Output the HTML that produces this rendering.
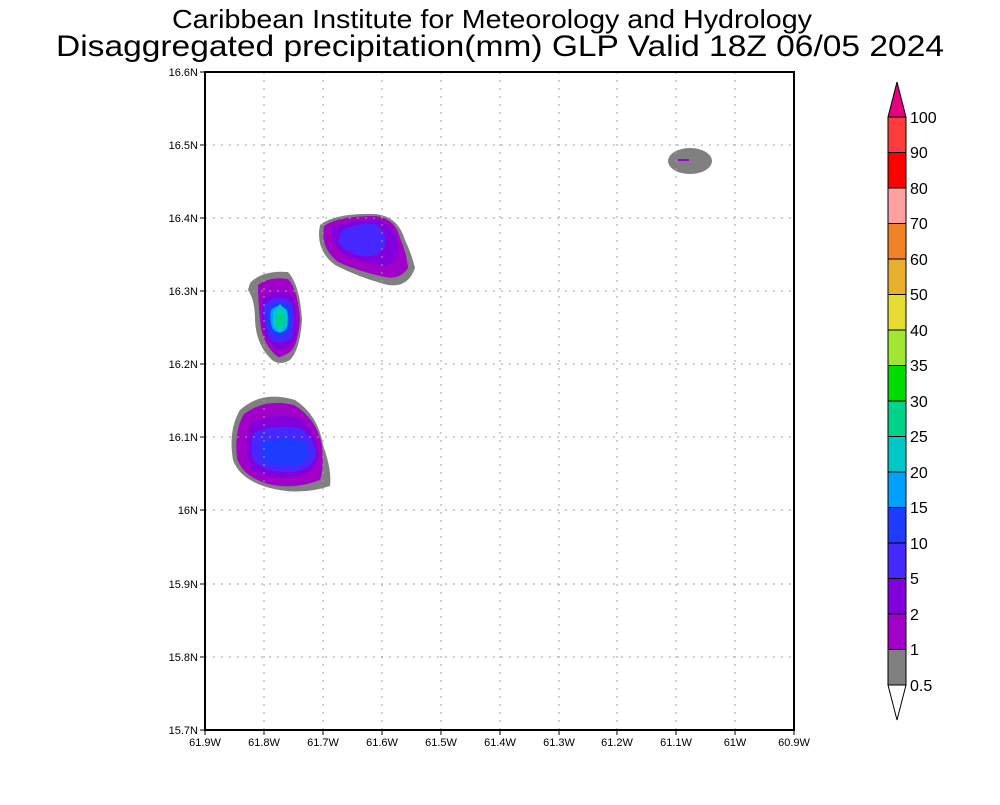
<!DOCTYPE html>
<html><head><meta charset="utf-8"><style>
body{margin:0;background:#fff;}
svg text{font-family:"Liberation Sans",sans-serif;fill:#000;}
</style></head><body>
<svg width="1000" height="800" xmlns="http://www.w3.org/2000/svg">
<rect width="1000" height="800" fill="#fff"/>
<text x="492" y="28" font-size="26" text-anchor="middle" textLength="640" lengthAdjust="spacingAndGlyphs">Caribbean Institute for Meteorology and Hydrology</text>
<text x="500" y="56" font-size="30" text-anchor="middle" textLength="888" lengthAdjust="spacingAndGlyphs">Disaggregated precipitation(mm) GLP Valid 18Z 06/05 2024</text>

<!-- blobs -->
<g>
<!-- bottom-left -->
<path d="M240,410 Q262,390 295,400 Q318,415 323,445 Q332,470 330,486 Q300,496 270,488 Q240,480 233,460 Q228,430 240,410Z" fill="#808080"/>
<path d="M244,414 Q265,398 294,405 Q316,418 322,445 Q324,470 320,480 Q295,490 268,484 Q242,476 237,458 Q234,430 244,414Z" fill="#a000c8"/>
<path d="M250,425 Q270,412 298,418 Q316,430 318,452 Q318,470 300,476 Q270,480 252,470 Q242,450 250,425Z" fill="#8200dc"/>
<path d="M255,432 Q275,424 300,428 Q316,440 316,456 Q312,470 290,472 Q262,472 253,460 Q248,445 255,432Z" fill="#4628ff"/>
<path d="M262,442 Q285,434 305,442 Q312,455 302,464 Q280,468 265,462 Q258,452 262,442Z" fill="#1e3cff"/>
<!-- middle -->
<path d="M250,283 Q262,270 288,272 Q300,285 302,320 Q300,350 290,360 Q280,366 272,360 Q256,345 255,320 Q255,300 248,290Z" fill="#808080"/>
<path d="M258,285 Q270,276 288,279 Q298,290 300,320 Q298,345 290,352 Q280,358 278,357 Q262,345 260,320 Q258,300 258,285Z" fill="#a000c8"/>
<path d="M262,298 Q275,288 292,295 Q298,315 296,338 Q288,350 278,350 Q264,340 262,320Z" fill="#8200dc"/>
<path d="M264,305 Q276,293 292,302 Q296,320 292,338 Q282,346 270,340 Q263,325 264,305Z" fill="#4628ff"/>
<path d="M268,308 Q278,298 290,306 Q293,322 288,333 Q278,340 270,332 Q266,320 268,308Z" fill="#1e3cff"/>
<path d="M271,310 Q279,302 287,310 Q290,322 286,330 Q278,336 272,328 Q269,318 271,310Z" fill="#00a0ff"/>
<path d="M280,304 L287,312 L287,326 L280,333 L273,326 L273,312Z" fill="#00c8c8"/>
<path d="M280,310 L284,316 L284,324 L280,328 L276,324 L276,316Z" fill="#00d28c"/>
<!-- top -->
<path d="M320,225 Q335,213 375,214 Q398,216 405,240 Q412,255 415,268 Q408,288 388,285 Q360,278 335,265 Q315,250 320,225Z" fill="#808080"/>
<path d="M324,226 Q338,216 375,216 Q395,218 400,238 Q407,255 408,268 Q400,280 385,277 Q360,272 338,262 Q320,248 324,226Z" fill="#a000c8"/>
<path d="M332,228 Q345,220 378,220 Q395,225 398,245 Q400,262 385,266 Q360,262 345,255 Q330,245 332,228Z" fill="#8200dc"/>
<path d="M340,232 Q350,223 375,224 Q386,230 385,245 Q380,258 362,256 Q345,252 338,242Z" fill="#4628ff"/>
<!-- small -->
<ellipse cx="690" cy="161" rx="22" ry="13" fill="#808080"/>
<rect x="678" y="159" width="11" height="2" fill="#a000c8"/>
</g>

<!-- grid -->
<g stroke="#a0a0a0" stroke-width="1" stroke-dasharray="2,6">
<line x1="264" y1="72" x2="264" y2="730"/><line x1="323" y1="72" x2="323" y2="730"/><line x1="382" y1="72" x2="382" y2="730"/><line x1="441" y1="72" x2="441" y2="730"/><line x1="500" y1="72" x2="500" y2="730"/><line x1="559" y1="72" x2="559" y2="730"/><line x1="617" y1="72" x2="617" y2="730"/><line x1="676" y1="72" x2="676" y2="730"/><line x1="735" y1="72" x2="735" y2="730"/>
<line x1="205" y1="145" x2="794" y2="145"/><line x1="205" y1="218" x2="794" y2="218"/><line x1="205" y1="291" x2="794" y2="291"/><line x1="205" y1="364" x2="794" y2="364"/><line x1="205" y1="437" x2="794" y2="437"/><line x1="205" y1="510" x2="794" y2="510"/><line x1="205" y1="584" x2="794" y2="584"/><line x1="205" y1="657" x2="794" y2="657"/>
</g>
<rect x="205" y="72" width="589" height="658" fill="none" stroke="#000" stroke-width="2"/>
<g stroke="#000" stroke-width="1">
<line x1="200" y1="72" x2="205" y2="72"/><line x1="200" y1="145" x2="205" y2="145"/><line x1="200" y1="218" x2="205" y2="218"/><line x1="200" y1="291" x2="205" y2="291"/><line x1="200" y1="364" x2="205" y2="364"/><line x1="200" y1="437" x2="205" y2="437"/><line x1="200" y1="510" x2="205" y2="510"/><line x1="200" y1="584" x2="205" y2="584"/><line x1="200" y1="657" x2="205" y2="657"/><line x1="200" y1="730" x2="205" y2="730"/>
<line x1="205" y1="730" x2="205" y2="735"/><line x1="264" y1="730" x2="264" y2="735"/><line x1="323" y1="730" x2="323" y2="735"/><line x1="382" y1="730" x2="382" y2="735"/><line x1="441" y1="730" x2="441" y2="735"/><line x1="500" y1="730" x2="500" y2="735"/><line x1="559" y1="730" x2="559" y2="735"/><line x1="617" y1="730" x2="617" y2="735"/><line x1="676" y1="730" x2="676" y2="735"/><line x1="735" y1="730" x2="735" y2="735"/><line x1="794" y1="730" x2="794" y2="735"/>
</g>
<g font-size="11" text-anchor="end">
<text x="198" y="76">16.6N</text><text x="198" y="149">16.5N</text><text x="198" y="222">16.4N</text><text x="198" y="295">16.3N</text><text x="198" y="368">16.2N</text><text x="198" y="441">16.1N</text><text x="198" y="514">16N</text><text x="198" y="588">15.9N</text><text x="198" y="661">15.8N</text><text x="198" y="734">15.7N</text>
</g>
<g font-size="11" text-anchor="middle">
<text x="205" y="746">61.9W</text><text x="264" y="746">61.8W</text><text x="323" y="746">61.7W</text><text x="382" y="746">61.6W</text><text x="441" y="746">61.5W</text><text x="500" y="746">61.4W</text><text x="559" y="746">61.3W</text><text x="617" y="746">61.2W</text><text x="676" y="746">61.1W</text><text x="735" y="746">61W</text><text x="794" y="746">60.9W</text>
</g>

<!-- colorbar -->
<g stroke="#000" stroke-width="1">
<polygon points="888,117 906,117 897,82" fill="#e6007f"/>
<rect x="888" y="117" width="18" height="35.5" fill="#ff3c3c"/>
<rect x="888" y="152.5" width="18" height="35.5" fill="#ff0000"/>
<rect x="888" y="188" width="18" height="35.5" fill="#ffa0a0"/>
<rect x="888" y="223.5" width="18" height="35.5" fill="#f08228"/>
<rect x="888" y="259" width="18" height="35.5" fill="#e6af2d"/>
<rect x="888" y="294.5" width="18" height="35.5" fill="#e6dc32"/>
<rect x="888" y="330" width="18" height="35.5" fill="#a0e632"/>
<rect x="888" y="365.5" width="18" height="35.5" fill="#00dc00"/>
<rect x="888" y="401" width="18" height="35.5" fill="#00d28c"/>
<rect x="888" y="436.5" width="18" height="35.5" fill="#00c8c8"/>
<rect x="888" y="472" width="18" height="35.5" fill="#00a0ff"/>
<rect x="888" y="507.5" width="18" height="35.5" fill="#1e3cff"/>
<rect x="888" y="543" width="18" height="35.5" fill="#4628ff"/>
<rect x="888" y="578.5" width="18" height="35.5" fill="#8200dc"/>
<rect x="888" y="614" width="18" height="35.5" fill="#a000c8"/>
<rect x="888" y="649.5" width="18" height="35.5" fill="#808080"/>
<polygon points="888,685 906,685 897,720" fill="#fff"/>
</g>
<g font-size="16">
<text x="910" y="123">100</text><text x="910" y="158">90</text><text x="910" y="194">80</text><text x="910" y="229">70</text><text x="910" y="265">60</text><text x="910" y="300">50</text><text x="910" y="336">40</text><text x="910" y="371">35</text><text x="910" y="407">30</text><text x="910" y="442">25</text><text x="910" y="478">20</text><text x="910" y="513">15</text><text x="910" y="549">10</text><text x="910" y="584">5</text><text x="910" y="620">2</text><text x="910" y="655">1</text><text x="910" y="691">0.5</text>
</g>
</svg>
</body></html>
